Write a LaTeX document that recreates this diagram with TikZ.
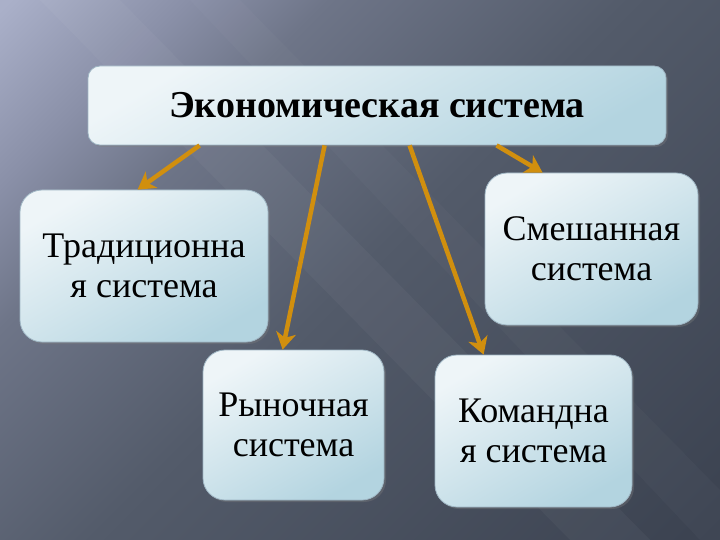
\documentclass[tikz,border=0pt]{standalone}
\usepackage{fontspec}
\setmainfont{Liberation Serif}
\usetikzlibrary{arrows.meta,shadows,calc}
\definecolor{bg0}{HTML}{AAB0C9}
\definecolor{bg1}{HTML}{8A90A8}
\definecolor{bg2}{HTML}{6E7588}
\definecolor{bg3}{HTML}{535B6A}
\definecolor{bg4}{HTML}{3B4250}
\definecolor{boxA}{HTML}{EEF5F8}
\definecolor{boxB}{HTML}{B3D4E0}
\definecolor{boxline}{HTML}{9FB6C4}
\definecolor{arrcol}{HTML}{D18F0E}
\pgfdeclarehorizontalshading{bgshade}{100bp}{color(0bp)=(bg0); color(15bp)=(bg0); color(25bp)=(bg1); color(33bp)=(bg2); color(50bp)=(bg3); color(85bp)=(bg4); color(100bp)=(bg4)}
\begin{document}
\begin{tikzpicture}[x=1pt,y=-1pt,
  box/.style={draw=boxline, line width=0.8pt, rounded corners=22pt,
    top color=boxA, bottom color=boxB, shading angle=30,
    drop shadow={opacity=0.35, shadow xshift=2pt, shadow yshift=-2pt},
    align=center, inner sep=0pt, font=\fontsize{36}{40}\selectfont},
  arr/.style={draw=arrcol, line width=4.5pt, -{Stealth[length=17pt,width=20pt,inset=5pt]}}]
\useasboundingbox (0,0) rectangle (720,540);
\shade[shading=bgshade, shading angle=-45] (0,0) rectangle (720,540);
\fill[white, opacity=0.035] (40,0) -- (120,0) -- (650,540) -- (570,540) -- cycle;
\fill[white, opacity=0.025] (190,0) -- (240,0) -- (720,490) -- (720,540) -- (700,540) -- cycle;
\node[box, rounded corners=12pt, minimum width=578pt, minimum height=79pt, font=\fontsize{38}{40}\selectfont\bfseries] (main) at (377,105.5) {Экономическая система};
\node[box, minimum width=248pt, minimum height=152pt] (trad) at (144,266) {Традиционна\\я система};
\node[box, minimum width=213pt, minimum height=152pt] (mixed) at (591.5,249) {Смешанная\\система};
\node[box, minimum width=181pt, minimum height=150pt] (market) at (293.5,425) {Рыночная\\система};
\node[box, minimum width=197pt, minimum height=152pt] (command) at (533.5,431) {Командна\\я система};
\draw[arr] ([xshift=112pt]main.south west) -- ([xshift=118pt]trad.north west);
\draw[arr] ([xshift=237pt]main.south west) -- ([xshift=80pt]market.north west);
\draw[arr] ([xshift=322pt]main.south west) -- ([xshift=49pt]command.north west);
\draw[arr] ([xshift=409pt]main.south west) -- ([xshift=58pt]mixed.north west);
\end{tikzpicture}
\end{document}
